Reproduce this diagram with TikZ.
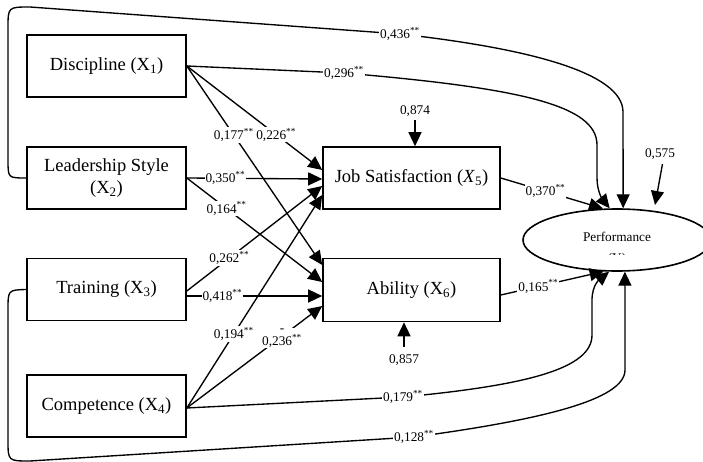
\documentclass[tikz,border=0pt]{standalone}
\usepackage{fontspec}
\setmainfont{Liberation Serif}
\usetikzlibrary{arrows.meta,shapes.geometric}
\newcommand{\dstar}{\textsuperscript{**}}
\begin{document}
\begin{tikzpicture}[x=1pt,y=-1pt,
  line width=1.35pt,
  box/.style={draw, line width=1.6pt, minimum width=159pt, minimum height=62pt, inner sep=0pt,
    font=\fontsize{18.5}{22}\selectfont, align=center},
  lbl/.style={fill=white, inner sep=1pt, font=\fontsize{13.3}{15}\selectfont},
  plain/.style={inner sep=1pt, font=\fontsize{13.3}{15}\selectfont},
  arr/.style={-{Triangle[length=14pt,width=13pt]}},
]
\useasboundingbox (0,0) rectangle (703,462);

% boxes
\node[box] (x1) at (106.5,66) {Discipline (X\textsubscript{1})};
\node[box] (x2) at (106.5,178) {Leadership Style\\(X\textsubscript{2})};
\node[box] (x3) at (106.5,289.5) {Training (X\textsubscript{3})};
\node[box] (x4) at (106.5,406) {Competence (X\textsubscript{4})};
\node[box, minimum width=177pt] (x5) at (411.5,178) {Job Satisfaction (\textit{X}\textsubscript{5})};
\node[box, minimum width=177pt, minimum height=63pt] (x6) at (411.5,290) {Ability (X\textsubscript{6})};
\node[draw, ellipse, line width=1.6pt, minimum width=188pt, minimum height=62pt, inner sep=0pt] (y) at (617,240) {};
\node[plain, inner sep=0pt] (perf) at (617,236.5) {Performance};
\begin{scope}
  \clip (570,240) rectangle (665,254.5);
  \node[plain, anchor=base] (ylab) at (617,262) {(Y)};
\end{scope}

% arrows into Job Satisfaction
\draw[arr] (x1.east) -- node[lbl, pos=0.66] {0,226\dstar} ([yshift=8pt]x5.west);
\draw[arr] (x2.east) -- node[lbl, pos=0.285] {0,350\dstar} ([yshift=-1pt]x5.west);
\draw[arr] ([yshift=-1.5pt]x3.east) -- node[lbl, pos=0.314] {0,262\dstar} ([yshift=-8pt]x5.west);
\draw[arr] ([yshift=-2pt]x4.east) -- node[lbl, pos=0.347] {0,194\dstar} ([yshift=-17pt]x5.west);

% arrows into Ability
\draw[arr] (x1.east) -- node[lbl, pos=0.347] {0,177\dstar} ([yshift=25pt]x6.west);
\draw[arr] (x2.east) -- node[lbl, pos=0.294] {0,164\dstar} ([yshift=8pt]x6.west);
\draw[arr] ([yshift=-6.5pt]x3.east) -- node[lbl, pos=0.263] {0,418\dstar} ([yshift=-6pt]x6.west);
\draw[arr] ([yshift=-2pt]x4.east) -- ([yshift=-16pt]x6.west);
\begin{scope}
  \clip (250,318) rectangle (320,347.5);
  \node[lbl, align=center, font=\fontsize{13.3}{13}\selectfont] (l236) at (282,338) {-\\0,236\dstar};
\end{scope}

% arrows into Performance
\draw[arr] (x5.east) -- node[lbl, pos=0.437] {0,370\dstar} (y.114.5);
\draw[arr] ([yshift=-5pt]x6.east) -- node[lbl, pos=0.365] {0,165\dstar} (y.247);

\draw[arr] (x1.east) -- (344,73) node[lbl] {0,296\dstar}
  .. controls (520,88) and (597,105) .. (597,145) -- (597,178)
  .. controls (597,192) and (603,200) .. (y.103);

\draw[arr] (x2.west) .. controls (8,178) .. (8,160) -- (8,28)
  .. controls (8,7) .. (30,7) -- (400,34) node[lbl] {0,436\dstar}
  .. controls (525,48) and (623,72) .. (623,112) -- (y.79);

\draw[arr] ([yshift=-2pt]x4.east) -- (403,397) node[lbl] {0,179\dstar}
  .. controls (530,385) and (592,368) .. (592,335) -- (592,300)
  .. controls (592,285) and (600,279) .. (y.256);

\draw[arr] (x3.west) .. controls (8,290) .. (8,310) -- (8,440)
  .. controls (8,461) .. (30,461) -- (414,437) node[lbl] {0,128\dstar}
  .. controls (540,420) and (625,400) .. (625,370) -- (y.284.5);

% error terms
\node[plain] (l874) at (415,111) {0,874};
\draw[arr, shorten <=2pt] (l874) -- (l874 |- x5.north);
\node[plain] (l857) at (404,360) {0,857};
\draw[arr, shorten <=6pt] (l857) -- (l857 |- x6.south);
\node[plain] (l575) at (660,154) {0,575};
\coordinate (t575) at (655,205);
\draw[arr, shorten <=3pt] ([xshift=3pt]l575.south) -- (t575);
\end{tikzpicture}
\end{document}
